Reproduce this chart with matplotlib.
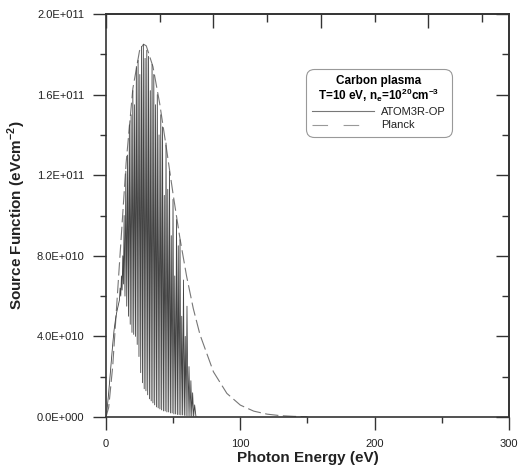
import numpy as np
import matplotlib
matplotlib.use('Agg')
import matplotlib.pyplot as plt
from matplotlib.ticker import MultipleLocator, FuncFormatter, FixedLocator, NullFormatter
from matplotlib.lines import Line2D

plt.rcParams['font.family'] = ['Liberation Sans', 'DejaVu Sans']
plt.rcParams['mathtext.fontset'] = 'custom'
plt.rcParams['mathtext.rm'] = 'Liberation Sans'
plt.rcParams['mathtext.bf'] = 'Liberation Sans:bold'

# ---------------- data (S in units of 1e11 eV cm^-2) ----------------
planck_E = [0, 2, 5, 10, 15, 20, 25, 28, 30, 35, 40, 45, 50, 55, 60, 65, 70,
            80, 90, 100, 110, 120, 130, 140, 150]
planck_S = [0.0, 0.047, 0.251, 0.758, 1.262, 1.630, 1.819, 1.850, 1.842, 1.738,
            1.555, 1.333, 1.104, 0.889, 0.699, 0.538, 0.408, 0.224, 0.117,
            0.059, 0.029, 0.014, 0.0065, 0.003, 0.0013]

cont_E = [0, 1, 2, 3, 4, 5, 6, 7, 8, 9, 10, 10.5, 11, 11.5, 12, 12.5, 13]
cont_S = [0.0, 0.05, 0.12, 0.20, 0.28, 0.36, 0.43, 0.48, 0.52, 0.55, 0.58,
          0.64, 0.60, 0.70, 0.63, 0.80, 0.66]

line_E = [13.5, 14.8, 16.1, 17.4, 18.7, 20.0, 21.3, 22.6, 23.9, 25.2, 26.5,
          27.8, 29.1, 30.4, 31.7, 33.0, 34.3, 35.6, 36.9, 38.2, 39.5, 40.8,
          42.1, 43.4, 44.7, 46.0, 47.3, 48.6, 49.9, 51.2, 52.5, 53.8, 55.1,
          56.4, 57.7, 59.0, 60.3, 61.8, 63.2, 64.5, 66.0]
line_top = [1.00, 1.22, 1.30, 1.45, 1.50, 1.62, 1.55, 1.74, 1.77, 1.70, 1.84,
            1.85, 1.78, 1.82, 1.79, 1.62, 1.75, 1.70, 1.55, 1.60, 1.40, 1.50,
            1.44, 1.10, 1.36, 1.13, 1.22, 0.90, 1.08, 0.70, 0.98, 0.85, 0.88,
            0.50, 0.68, 0.40, 0.55, 0.25, 0.18, 0.12, 0.06]
line_floor = [0.60, 0.55, 0.50, 0.46, 0.42, 0.41, 0.40, 0.36, 0.30, 0.22, 0.17,
              0.14, 0.13, 0.11, 0.09, 0.08, 0.07, 0.06, 0.05, 0.045, 0.04, 0.035,
              0.03, 0.03, 0.025, 0.025, 0.02, 0.02, 0.015, 0.015, 0.012, 0.012,
              0.01, 0.01, 0.008, 0.007, 0.006, 0.005, 0.004, 0.002, 0.0]
spec_end_E = 68.0

x_ticks = [0, 100, 200, 300]
y_ticks = [0, 0.4, 0.8, 1.2, 1.6, 2.0]
scale = 1e11

# ---------------- build spectrum polyline from the line list ----------------
sx = list(cont_E)
sy = list(cont_S)
for i, e in enumerate(line_E):
    sx.append(e)
    sy.append(line_top[i])
    nxt = line_E[i + 1] if i + 1 < len(line_E) else spec_end_E
    sx.append((e + nxt) / 2.0)
    sy.append(line_floor[i])
sx.append(spec_end_E)
sy.append(0.0)
sx = np.array(sx)
sy = np.array(sy) * scale

fig = plt.figure(figsize=(5.18, 4.68), dpi=100)
ax = fig.add_axes([0.2046, 0.109, 0.778, 0.861])

ax.plot(planck_E, np.array(planck_S) * scale, color='#777777', lw=0.8,
        dashes=(12, 4), zorder=2)
ax.plot(sx, sy, color='#444444', lw=0.6, zorder=3)

ax.set_xlim(0, 300)
ax.set_ylim(0, 2.0e11)

ax.xaxis.set_major_locator(FixedLocator(x_ticks))
ax.xaxis.set_minor_locator(MultipleLocator(50))
ax.yaxis.set_major_locator(FixedLocator([v * scale for v in y_ticks]))
ax.yaxis.set_minor_locator(MultipleLocator(0.2e11))


def yfmt(v, pos):
    if v == 0:
        return '0.0E+000'
    e = int(np.floor(np.log10(abs(v)) + 1e-9))
    m = v / 10 ** e
    return f'{m:.1f}E+{e:03d}'


ax.yaxis.set_major_formatter(FuncFormatter(yfmt))

spcol = '#333333'
for s in ax.spines.values():
    s.set_linewidth(1.2)
    s.set_color(spcol)

ax.tick_params(which='major', direction='out', length=9.5, width=1.0,
               labelsize=8, pad=6, color=spcol, labelcolor='#222222',
               top=False, right=False)
ax.tick_params(which='minor', direction='out', length=4.5, width=1.0,
               color=spcol, top=False, right=False)

secx = ax.secondary_xaxis('top')
secx.xaxis.set_major_locator(FixedLocator([0, 80, 160, 240]))
secx.xaxis.set_minor_locator(FixedLocator([40, 120, 200, 280]))
secx.xaxis.set_major_formatter(NullFormatter())
secx.tick_params(which='major', direction='in', length=10, width=1.0, color=spcol)
secx.tick_params(which='minor', direction='in', length=5.5, width=1.0, color=spcol)
secx.spines['top'].set_linewidth(1.2)
secx.spines['top'].set_color(spcol)

secy = ax.secondary_yaxis('right')
secy.yaxis.set_major_locator(FixedLocator([v * scale for v in y_ticks]))
secy.yaxis.set_minor_locator(MultipleLocator(0.2e11))
secy.yaxis.set_major_formatter(NullFormatter())
secy.tick_params(which='major', direction='in', length=9.5, width=1.0, color=spcol)
secy.tick_params(which='minor', direction='in', length=5, width=1.0, color=spcol)
secy.spines['right'].set_linewidth(1.2)
secy.spines['right'].set_color(spcol)

ax.set_xlabel('Photon Energy (eV)', fontsize=11, fontweight='bold',
              labelpad=2, color='#222222')
ax.set_ylabel(r'Source Function (eVcm$^{\mathbf{-2}}$)', fontsize=11,
              fontweight='bold', labelpad=6, color='#222222')

h1 = Line2D([], [], color='#777777', lw=0.8)
h2 = Line2D([], [], color='#999999', lw=0.8, dashes=(14, 14))
leg = ax.legend([h1, h2], ['ATOM3R-OP', 'Planck'],
                title='Carbon plasma\n' + r'T=10 eV, n$_{\mathbf{e}}$=10$^{\mathbf{20}}$cm$^{\mathbf{-3}}$',
                loc='upper left', bbox_to_anchor=(0.496, 0.8635),
                borderaxespad=0, fontsize=8, title_fontsize=8.5,
                handlelength=5.6, handletextpad=0.6, labelspacing=0.3,
                borderpad=0.55, fancybox=True, framealpha=1,
                edgecolor='#999999')
leg.get_title().set_fontweight('bold')
leg.get_title().set_multialignment('center')
leg.get_title().set_linespacing(0.95)
leg.get_frame().set_linewidth(0.8)
leg.get_frame().set_boxstyle('round', pad=0, rounding_size=0.7)
for t in leg.get_texts():
    t.set_color('#222222')

fig.savefig('out.png', dpi=100)
